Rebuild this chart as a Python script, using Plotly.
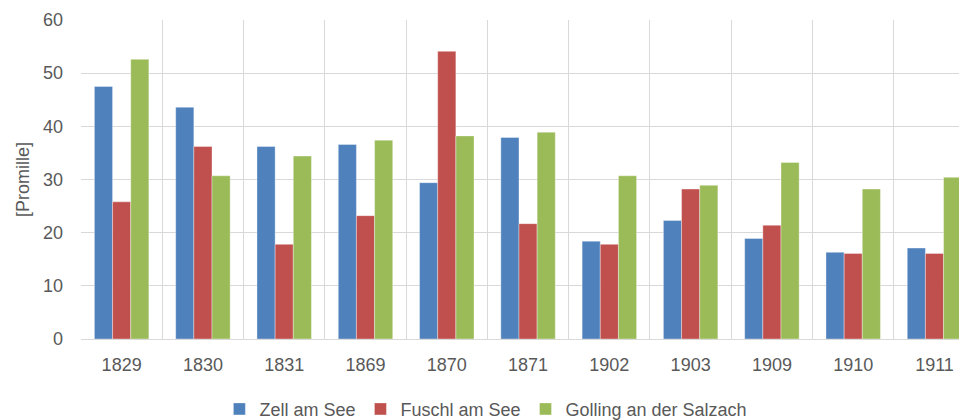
import plotly.graph_objects as go

years = ["1829", "1830", "1831", "1869", "1870", "1871", "1902", "1903", "1909", "1910", "1911"]
zell = [47.5, 43.6, 36.2, 36.6, 29.4, 37.9, 18.4, 22.3, 18.9, 16.3, 17.1]
fuschl = [25.8, 36.2, 17.8, 23.2, 54.1, 21.7, 17.8, 28.2, 21.4, 16.1, 16.1]
golling = [52.6, 30.7, 34.4, 37.4, 38.2, 38.9, 30.7, 28.9, 33.2, 28.2, 30.4]

series = [
    ("Zell am See", zell, "#4F81BD"),
    ("Fuschl am See", fuschl, "#C0504D"),
    ("Golling an der Salzach", golling, "#9BBB59"),
]

fig = go.Figure()
for name, vals, col in series:
    fig.add_trace(go.Bar(
        x=years, y=vals, name=name,
        marker=dict(color=col, line=dict(color="rgba(255,255,255,0.6)", width=0.6)),
    ))

font_fam = "Liberation Sans, Arial, sans-serif"
fig.update_layout(
    width=959, height=412,
    margin=dict(l=73, r=0, t=12, b=81, autoexpand=False),
    paper_bgcolor="white", plot_bgcolor="white",
    barmode="group", bargap=0.33, bargroupgap=0,
    font=dict(family=font_fam, size=18, color="#595959"),
    showlegend=True,
    legend=dict(orientation="h", x=0.457, xanchor="center", y=-0.22, yanchor="middle",
                font=dict(size=18, color="#595959"), itemwidth=30, traceorder="normal"),
    xaxis=dict(
        type="category", range=[-0.5, 10.4], tickson="boundaries",
        showgrid=True, gridcolor="#D9D9D9", gridwidth=1,
        showline=True, linecolor="#D9D9D9", linewidth=1,
        ticks="", ticklabelstandoff=9, automargin=False,
        tickfont=dict(size=18, color="#595959"),
    ),
    yaxis=dict(
        range=[0, 60], dtick=10, showgrid=True, gridcolor="#D9D9D9", gridwidth=1,
        zeroline=True, zerolinecolor="#D9D9D9", zerolinewidth=1,
        showline=False, ticks="", ticklabelstandoff=17, automargin=False,
        tickfont=dict(size=18, color="#595959"),
        title=dict(text="[Promille]", font=dict(size=18, color="#595959"), standoff=8),
    ),
)

fig.write_html("out.html")
